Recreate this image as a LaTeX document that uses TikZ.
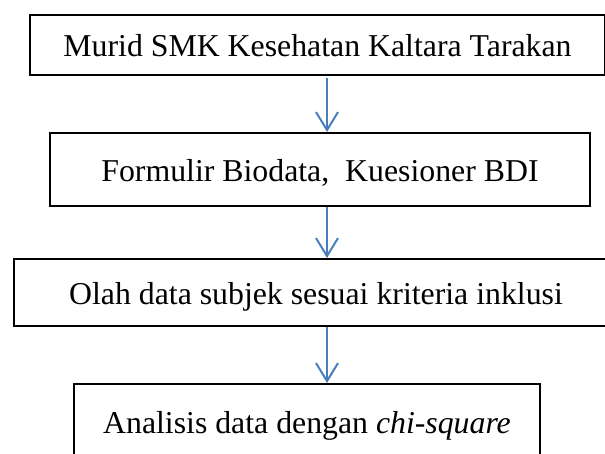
\documentclass[tikz,border=0pt]{standalone}
\usepackage{fontspec}
\setmainfont{Liberation Serif}
\usetikzlibrary{arrows.meta}
\definecolor{arrowblue}{RGB}{74,126,187}
\tikzstyle{flowbox} = [draw=black, line width=2pt, fill=white, rectangle,
    inner sep=0pt, text height=24pt, text depth=0pt,
    font=\fontsize{31.8}{38}\selectfont]
\tikzstyle{flowarrow} = [draw=arrowblue, line width=2pt,
    -{Straight Barb[length=18pt, width=22pt]}]

\begin{document}
\begin{tikzpicture}[x=1pt, y=-1pt]
    \useasboundingbox (0,0) rectangle (605,454);
    \clip (0,0) rectangle (605,454);
    \node [flowbox, minimum width=575pt, minimum height=60pt] (box1) at (317.5,45)
        {Murid SMK Kesehatan Kaltara Tarakan};
    \node [flowbox, minimum width=540pt, minimum height=73pt] (box2) at (320,169.5)
        {Formulir Biodata,\ \ Kuesioner BDI};
    \node [flowbox, minimum width=604pt, minimum height=67pt] (box3) at (316,292.5)
        {Olah data subjek sesuai kriteria inklusi};
    \node [flowbox, minimum width=466pt, minimum height=74pt] (box4) at (307,421)
        {Analisis data dengan \textit{chi-square}};
    \coordinate (axis) at (327,0);
    \draw [flowarrow] ([yshift=-2pt]box1.south -| axis) -- (box2.north -| axis);
    \draw [flowarrow] (box2.south -| axis) -- (box3.north -| axis);
    \draw [flowarrow] (box3.south -| axis) -- (box4.north -| axis);
\end{tikzpicture}
\end{document}
